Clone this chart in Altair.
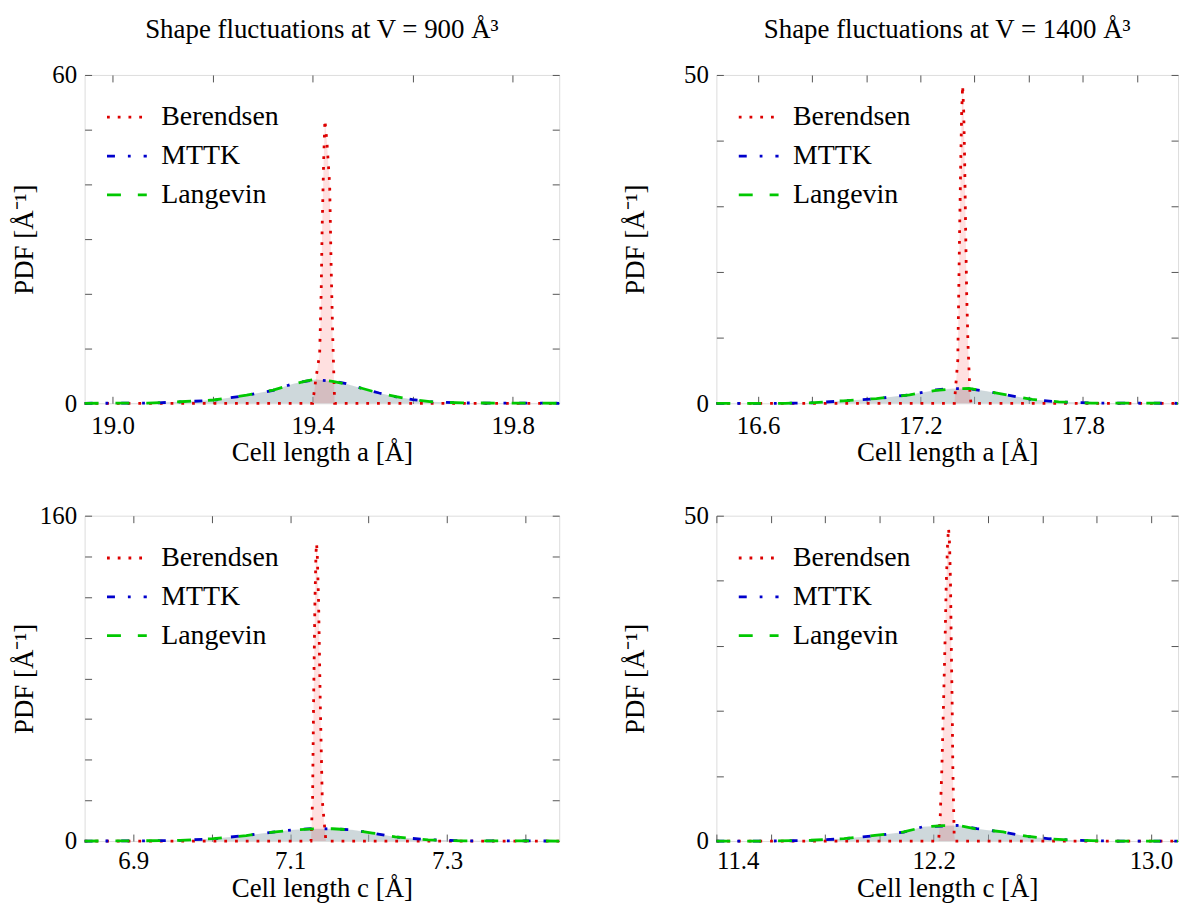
import altair as alt
import pandas as pd

SERIES = ["Berendsen", "MTTK", "Langevin"]
COLORS = ["#dd0000", "#0000cc", "#00c800"]
DASHES = [[2.8, 8], [8, 13, 2.8, 13], [14, 17]]

# ---------------- Panel 1: V = 900, cell length a ----------------
p1_ber_x = [18.944, 19.400, 19.407, 19.414, 19.417, 19.419, 19.422, 19.4245, 19.4285, 19.434, 19.437, 19.440, 19.444, 19.893]
p1_ber_y = [0, 0, 4.8, 9.0, 19.9, 32.0, 44.2, 51.8, 47.8, 40.0, 24.8, 12.7, 0, 0]
p1_mttk_x = [18.944, 19.07, 19.135, 19.202, 19.268, 19.321, 19.361, 19.388, 19.407, 19.44, 19.467, 19.50, 19.533, 19.567, 19.60, 19.639, 19.70, 19.893]
p1_mttk_y = [0, 0.02, 0.24, 0.55, 1.45, 2.36, 3.58, 4.06, 4.30, 4.05, 3.58, 2.67, 1.88, 1.15, 0.67, 0.24, 0.05, 0]
p1_lan_x = [18.944, 19.07, 19.135, 19.202, 19.268, 19.321, 19.361, 19.388, 19.407, 19.44, 19.467, 19.50, 19.533, 19.567, 19.60, 19.639, 19.70, 19.893]
p1_lan_y = [0, 0.03, 0.28, 0.60, 1.50, 2.40, 3.50, 4.10, 4.40, 4.00, 3.50, 2.70, 1.85, 1.20, 0.70, 0.26, 0.06, 0]

# ---------------- Panel 2: V = 1400, cell length a ----------------
p2_ber_x = [16.446, 17.3255, 17.338, 17.3415, 17.345, 17.349, 17.3525, 17.356, 17.360, 17.3635, 17.367, 17.371, 17.3757, 17.383, 17.3868, 18.152]
p2_ber_y = [0, 0, 6.5, 16.6, 26.7, 36.8, 44.4, 48.4, 44.4, 36.8, 26.7, 16.6, 9.1, 1.5, 0, 0]
p2_mttk_x = [16.446, 16.70, 16.792, 16.915, 17.0375, 17.16, 17.258, 17.319, 17.38, 17.442, 17.528, 17.613, 17.711, 17.834, 18.152]
p2_mttk_y = [0, 0.0, 0.05, 0.35, 0.70, 1.30, 2.05, 2.25, 2.20, 1.82, 1.21, 0.56, 0.20, 0.03, 0]
p2_lan_x = [16.446, 16.70, 16.792, 16.915, 17.0375, 17.16, 17.258, 17.319, 17.38, 17.442, 17.528, 17.613, 17.711, 17.834, 18.152]
p2_lan_y = [0, 0.0, 0.06, 0.38, 0.72, 1.28, 1.95, 2.20, 2.25, 1.85, 1.20, 0.58, 0.22, 0.03, 0]

# ---------------- Panel 3: V = 900, cell length c ----------------
p3_ber_x = [6.838, 7.1266, 7.1286, 7.1299, 7.1316, 7.1329, 7.1337, 7.1346, 7.1363, 7.1384, 7.1410, 7.1456, 7.443]
p3_ber_y = [0, 0, 20, 68, 117, 141, 146.5, 141, 117, 68, 20, 0, 0]
p3_mttk_x = [6.838, 6.90, 6.96, 7.002, 7.044, 7.078, 7.103, 7.129, 7.154, 7.179, 7.205, 7.234, 7.276, 7.318, 7.443]
p3_mttk_y = [0, 0.05, 0.32, 1.10, 2.76, 4.38, 5.50, 6.10, 6.00, 5.50, 3.90, 1.95, 0.65, 0.10, 0]
p3_lan_x = [6.838, 6.90, 6.96, 7.002, 7.044, 7.078, 7.103, 7.129, 7.154, 7.179, 7.205, 7.234, 7.276, 7.318, 7.443]
p3_lan_y = [0, 0.06, 0.35, 1.15, 2.70, 4.40, 5.40, 5.95, 6.05, 5.45, 3.95, 2.00, 0.62, 0.12, 0]

# ---------------- Panel 4: V = 1400, cell length c ----------------
p4_ber_x = [11.4, 12.2183, 12.2242, 12.2304, 12.2366, 12.2425, 12.2462, 12.2513, 12.2550, 12.2586, 12.2623, 12.2645, 12.2681, 12.2707, 12.2755, 12.2790, 13.10]
p4_ber_y = [0, 0, 3.65, 11.25, 21.4, 31.5, 39.1, 45.7, 48.1, 45.7, 39.1, 31.5, 21.4, 11.25, 1.1, 0, 0]
p4_mttk_x = [11.4, 11.60, 11.748, 11.870, 11.992, 12.09, 12.163, 12.237, 12.2975, 12.359, 12.456, 12.542, 12.627, 12.725, 12.847, 13.10]
p4_mttk_y = [0, 0.0, 0.10, 0.35, 0.86, 1.37, 2.23, 2.30, 2.42, 1.90, 1.37, 0.71, 0.35, 0.10, 0, 0]
p4_lan_x = [11.4, 11.60, 11.748, 11.870, 11.992, 12.09, 12.163, 12.237, 12.2975, 12.359, 12.456, 12.542, 12.627, 12.725, 12.847, 13.10]
p4_lan_y = [0, 0.0, 0.12, 0.38, 0.90, 1.40, 2.15, 2.38, 2.35, 1.85, 1.40, 0.74, 0.33, 0.12, 0, 0]

# axis ticks / labels
p1_xticks = [19.0, 19.2, 19.4, 19.6, 19.8]
p1_xlabels = [19.0, 19.4, 19.8]
p2_xticks = [16.6, 16.8, 17.0, 17.2, 17.4, 17.6, 17.8, 18.0]
p2_xlabels = [16.6, 17.2, 17.8]
p3_xticks = [6.9, 7.0, 7.1, 7.2, 7.3, 7.4]
p3_xlabels = [6.9, 7.1, 7.3]
p4_xticks = [11.4, 11.6, 11.8, 12.0, 12.2, 12.4, 12.6, 12.8, 13.0]
p4_xlabels = [11.4, 12.2, 13.0]

p1_yticks = [0, 10, 20, 30, 40, 50, 60]
p2_yticks = [0, 10, 20, 30, 40, 50]
p3_yticks = [0, 20, 40, 60, 80, 100, 120, 140, 160]
p4_yticks = [0, 10, 20, 30, 40, 50]

FONT = "Liberation Serif"
BORDER = "#555555"


def long_df(bx, by, mx, my, lx, ly):
    rows = []
    for name, xs, ys in (("Berendsen", bx, by), ("MTTK", mx, my), ("Langevin", lx, ly)):
        for xv, yv in zip(xs, ys):
            rows.append({"x": xv, "y": yv, "series": name})
    return pd.DataFrame(rows)


def legend():
    return alt.Legend(
        orient="top-left", title=None, symbolType="stroke", symbolSize=1600,
        symbolStrokeWidth=2.8, labelFont=FONT, labelFontSize=28,
        labelOffset=13, rowPadding=3, offset=21, padding=0, labelColor="black",
    )


def panel(df, xdom, xticks, xlabels, yticks, xtitle, width, height, title=None,
          label_pad=10, title_pad=2, ytitle_x=-60):
    xs = alt.Scale(domain=xdom, nice=False, zero=False)
    ys = alt.Scale(domain=[yticks[0], yticks[-1]], nice=False, zero=False)
    base = alt.Chart(df)

    def area(name, color, opacity):
        return base.transform_filter(alt.datum.series == name).mark_area(
            fill=color, fillOpacity=opacity, interpolate="linear"
        ).encode(
            x=alt.X("x:Q", scale=xs, axis=None),
            y=alt.Y("y:Q", scale=ys, axis=None, stack=None),
        )

    a_m = area("MTTK", "#9fb3b8", 0.3)
    a_l = area("Langevin", "#9fb3b8", 0.3)
    a_b = area("Berendsen", "#ff0000", 0.12)

    lines = base.mark_line(strokeWidth=2.8, interpolate="linear").encode(
        x=alt.X("x:Q", scale=xs, axis=alt.Axis(
            values=xlabels, format=".1f", ticks=False, tickSize=0, domain=False, grid=False,
            title=xtitle, labelPadding=label_pad, titlePadding=title_pad,
            labelFont=FONT, labelFontSize=25, titleFont=FONT, titleFontSize=27,
            titleFontWeight="normal", labelColor="black", titleColor="black",
        )),
        y=alt.Y("y:Q", scale=ys, axis=alt.Axis(
            values=[yticks[0], yticks[-1]], format="d", ticks=False, tickSize=0, domain=False, grid=False,
            title="PDF [Å⁻¹]", labelPadding=8, titleX=ytitle_x, titleBaseline="middle",
            labelFont=FONT, labelFontSize=25, titleFont=FONT, titleFontSize=27,
            titleFontWeight="normal", labelColor="black", titleColor="black",
        )),
        color=alt.Color("series:N", scale=alt.Scale(domain=SERIES, range=COLORS), legend=legend()),
        strokeDash=alt.StrokeDash("series:N", scale=alt.Scale(domain=SERIES, range=DASHES), legend=legend()),
    )

    tick_common = dict(labels=False, domain=False, grid=False, title=None, ticks=True,
                       tickSize=7, tickColor=BORDER, tickWidth=1, minExtent=0)
    t1 = base.mark_point(opacity=0, size=0).encode(
        x=alt.X("x:Q", scale=xs, axis=alt.Axis(orient="top", offset=-height, values=xticks, **tick_common)),
        y=alt.Y("y:Q", scale=ys, axis=alt.Axis(orient="right", offset=-width, values=yticks, **tick_common)),
    )
    t2 = base.mark_point(opacity=0, size=0).encode(
        x=alt.X("x:Q", scale=xs, axis=alt.Axis(orient="bottom", offset=-height, values=xticks, **tick_common)),
        y=alt.Y("y:Q", scale=ys, axis=alt.Axis(orient="left", offset=-width, values=yticks, **tick_common)),
    )

    layered = alt.layer(a_m, a_l, a_b, lines, t1, t2).resolve_axis(x="independent", y="independent")
    props = dict(width=width, height=height)
    if title is not None:
        props["title"] = alt.TitleParams(text=title, font=FONT, fontSize=27, fontWeight="normal",
                                         anchor="middle", offset=19, color="black")
    return layered.properties(**props)


W1, W2 = 477, 464
H_TOP, H_BOT = 330, 327

c1 = panel(long_df(p1_ber_x, p1_ber_y, p1_mttk_x, p1_mttk_y, p1_lan_x, p1_lan_y),
           [18.944, 19.893], p1_xticks, p1_xlabels, p1_yticks, "Cell length a [Å]", W1, H_TOP,
           "Shape fluctuations at V = 900 Å³", ytitle_x=-60)
c2 = panel(long_df(p2_ber_x, p2_ber_y, p2_mttk_x, p2_mttk_y, p2_lan_x, p2_lan_y),
           [16.446, 18.152], p2_xticks, p2_xlabels, p2_yticks, "Cell length a [Å]", W2, H_TOP,
           "Shape fluctuations at V = 1400 Å³", ytitle_x=-81)
c3 = panel(long_df(p3_ber_x, p3_ber_y, p3_mttk_x, p3_mttk_y, p3_lan_x, p3_lan_y),
           [6.838, 7.443], p3_xticks, p3_xlabels, p3_yticks, "Cell length c [Å]", W1, H_BOT,
           label_pad=8, title_pad=2, ytitle_x=-60)
c4 = panel(long_df(p4_ber_x, p4_ber_y, p4_mttk_x, p4_mttk_y, p4_lan_x, p4_lan_y),
           [11.4, 13.10], p4_xticks, p4_xlabels, p4_yticks, "Cell length c [Å]", W2, H_BOT,
           label_pad=8, title_pad=2, ytitle_x=-81)

chart = alt.concat(c1, c2, c3, c4, columns=2, spacing={"row": 113, "column": 158}, bounds="flush").resolve_scale(
    color="independent", strokeDash="independent", x="independent", y="independent"
).resolve_legend(color="independent", strokeDash="independent").properties(
    padding={"left": 2, "top": 5, "right": 0, "bottom": 0}
).configure_view(stroke=BORDER, strokeWidth=1.2).configure(background="white")

chart.save("out.html", embed_options={"renderer": "svg", "actions": False})
